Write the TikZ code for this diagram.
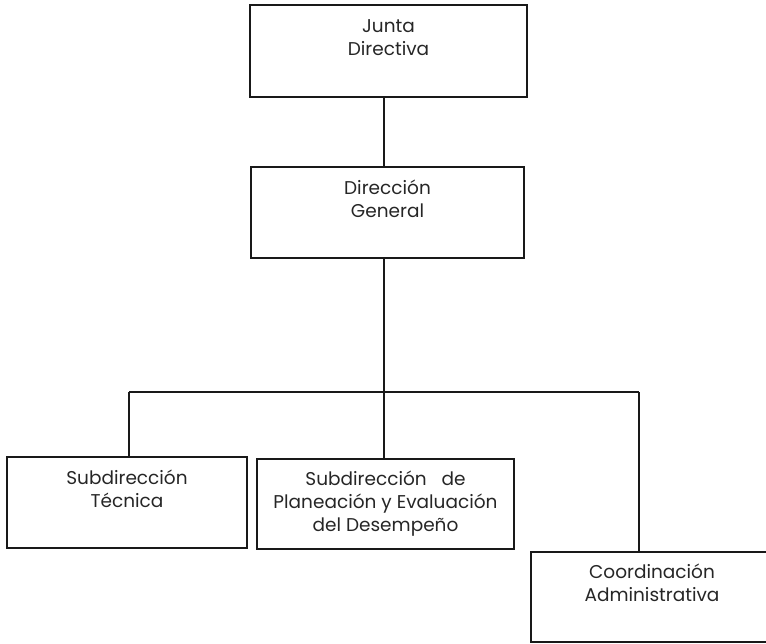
\documentclass[tikz,border=0pt]{standalone}
\usepackage{fontspec}
\setmainfont{Poppins}
\begin{document}
\begin{tikzpicture}[x=1pt,y=-1pt,
  orgbox/.style={draw=black!90, line width=1.3pt, rectangle, align=center, inner sep=0pt,
    font=\fontsize{18.5}{23}\selectfont, text=black!85},
  conn/.style={draw=black!90, line width=1.3pt}]
\useasboundingbox (0,0) rectangle (766,643);
\node[orgbox, minimum width=277, minimum height=92] (junta) at (388.5,51) {\strut Junta\\\strut Directiva\\\strut};
\node[orgbox, minimum width=273, minimum height=91] (dir) at (387.5,212.5) {\strut Dirección\\\strut General\\\strut};
\node[orgbox, minimum width=240, minimum height=91] (tec) at (127,502.5) {\strut Subdirección\\\strut Técnica\\\strut};
\node[orgbox, minimum width=257, minimum height=90] (plan) at (385.5,504) {\strut Subdirección~~~de\\\strut Planeación y Evaluación\\\strut del Desempeño};
\node[orgbox, minimum width=242, minimum height=90] (coord) at (652,597) {\strut Coordinación\\\strut Administrativa\\\strut};
\coordinate (bus) at (384,392);
\coordinate (busL) at (129,392);
\coordinate (busR) at (639,392);
\draw[conn] (junta.south -| bus) -- (dir.north -| bus);
\draw[conn] (dir.south -| bus) -- (bus);
\draw[conn] (busL) -- (busR);
\draw[conn] (busL) -- (busL |- tec.north);
\draw[conn] (bus) -- (bus |- plan.north);
\draw[conn] (busR) -- (busR |- coord.north);
\end{tikzpicture}
\end{document}
